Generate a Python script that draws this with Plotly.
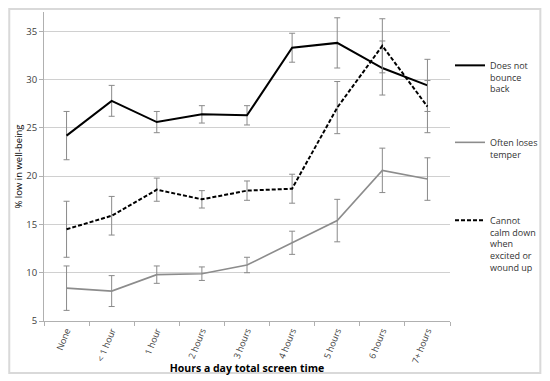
import plotly.graph_objects as go

categories = ["None", "< 1 hour", "1 hour", "2 hours", "3 hours", "4 hours", "5 hours", "6 hours", "7+ hours"]

bounce_vals = [24.2, 27.8, 25.6, 26.4, 26.3, 33.3, 33.8, 31.2, 29.4]
bounce_err = [2.5, 1.6, 1.1, 0.9, 1.0, 1.5, 2.6, 2.8, 2.7]

temper_vals = [8.4, 8.1, 9.8, 9.9, 10.8, 13.1, 15.4, 20.6, 19.7]
temper_err = [2.3, 1.6, 0.9, 0.7, 0.8, 1.2, 2.2, 2.3, 2.2]

calm_vals = [14.5, 15.9, 18.6, 17.6, 18.5, 18.7, 27.1, 33.5, 27.2]
calm_err = [2.9, 2.0, 1.2, 0.9, 1.0, 1.5, 2.7, 2.8, 2.7]

y_ticks = [5, 10, 15, 20, 25, 30, 35]

err_color = "#8a8a8a"
font_family = "Open Sans, Liberation Sans, sans-serif"

W, H = 550, 381
L, T, PW, PH = 36, 4, 409, 309

fig = go.Figure()

def add(vals, errs, name, color, dash, legend):
    fig.add_trace(go.Scatter(
        x=categories, y=vals, name=name, mode="lines",
        line=dict(color=color, width=2 if color == "#000000" else 1.6, dash=dash),
        error_y=dict(type="data", array=errs, visible=True, color=err_color, thickness=1, width=3),
        legend=legend,
    ))

add(bounce_vals, bounce_err, "Does not<br>bounce<br>back", "#000000", "solid", "legend")
add(temper_vals, temper_err, "Often loses<br>temper", "#8c8c8c", "solid", "legend2")
add(calm_vals, calm_err, "Cannot<br>calm down<br>when<br>excited or<br>wound up", "#000000", "4px,2px", "legend3")

leg_common = dict(x=442 / W, xref="container", yref="container", xanchor="left", yanchor="top", valign="top",
                  font=dict(family=font_family, size=9, color="#333333"),
                  bgcolor="rgba(0,0,0,0)", itemwidth=30, tracegroupgap=0)

def py(px):
    return 1 - px / H

def pxx(px):
    return (px - L) / PW

def pxy(px):
    return (T + PH - px) / PH

fig.update_layout(
    width=W, height=H,
    margin=dict(l=L, r=W - L - PW, t=T, b=H - T - PH),
    paper_bgcolor="white", plot_bgcolor="white",
    font=dict(family=font_family, size=9, color="#404040"),
    showlegend=True,
    legend=dict(**leg_common, y=py(45)),
    legend2=dict(**leg_common, y=py(122)),
    legend3=dict(**leg_common, y=py(200)),
    xaxis=dict(
        type="category", range=[-0.5, 8.5],
        tickangle=-68, showgrid=False, automargin=False,
        showline=True, linecolor="#b0b0b0", linewidth=1,
        ticks="outside", ticklen=4, tickcolor="#b0b0b0",
        tickson="boundaries",
        tickfont=dict(size=9, color="#404040"),
        title=dict(text="<b>Hours a day total screen time</b>", font=dict(size=10.5, color="#000000"), standoff=0),
    ),
    yaxis=dict(
        range=[5, 37], tickvals=y_ticks, automargin=False,
        showgrid=True, gridcolor="#d0d0d0", gridwidth=1,
        showline=True, linecolor="#b0b0b0", linewidth=1,
        ticks="outside", ticklen=4, tickcolor="#b0b0b0",
        zeroline=False,
        tickfont=dict(size=9.5, color="#404040"),
        title=dict(text="% low in well-being", font=dict(size=9.5, color="#000000"), standoff=1),
    ),
    shapes=[dict(type="rect", xref="paper", yref="paper",
                 x0=pxx(1), x1=pxx(536), y0=pxy(365), y1=pxy(1),
                 line=dict(color="#d9d9d9", width=2), layer="below")],
)

fig.write_html("out.html")
